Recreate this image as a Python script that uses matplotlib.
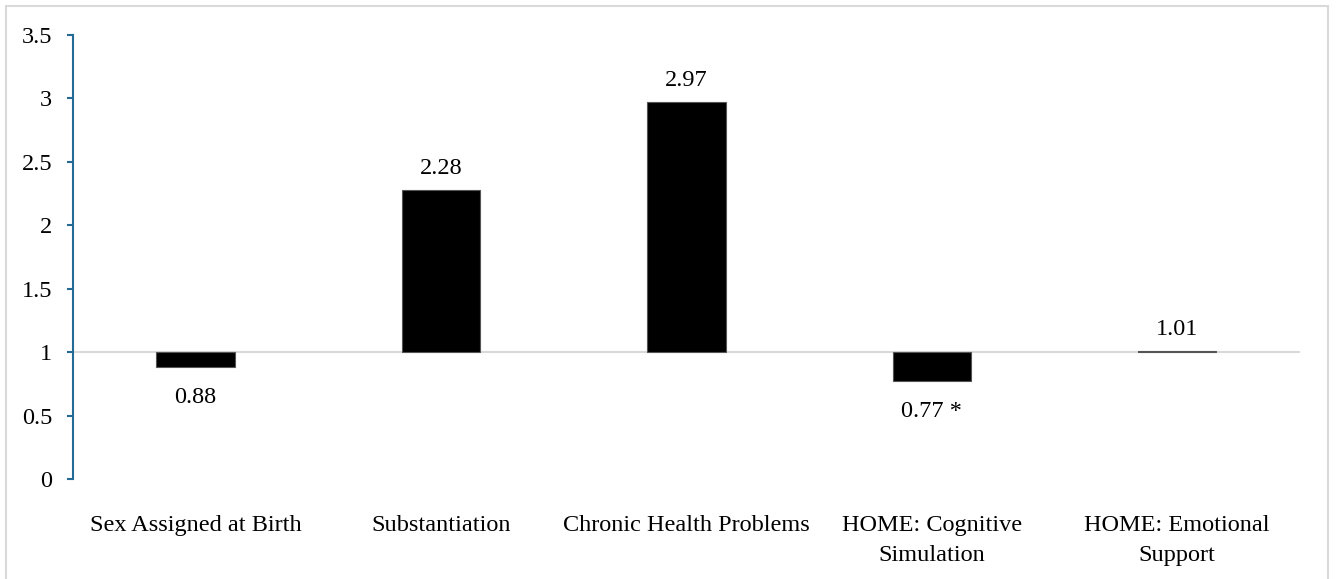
import matplotlib.pyplot as plt
from matplotlib.patches import Rectangle
import numpy as np

# odds ratios per predictor
categories = ['Sex Assigned at Birth', 'Substantiation', 'Chronic Health Problems',
              'HOME: Cognitive\nSimulation', 'HOME: Emotional\nSupport']
odds = [0.88, 2.28, 2.97, 0.77, 1.01]
labels = ['0.88', '2.28', '2.97', '0.77 *', '1.01']

plt.rcParams['font.family'] = ['Liberation Serif', 'DejaVu Serif']
fs = 17.5
axis_col = '#246a94'

fig = plt.figure(figsize=(13.36, 5.79), dpi=100)
ax = fig.add_axes([0.0546, 0.1727, 0.9184, 0.7669])

x = np.arange(len(categories))
heights = [v - 1 for v in odds]
ax.axhline(1, color='#d9d9d9', lw=1.5, zorder=1)
ax.bar(x, heights, bottom=1, width=0.32, color='black', edgecolor='#555555',
       linewidth=0.8, zorder=2)

for xi, v, lab in zip(x, odds, labels):
    if v >= 1:
        ax.annotate(lab, (xi, v), xytext=(0, 8), textcoords='offset points',
                    ha='center', va='bottom', fontsize=fs)
    else:
        ax.annotate(lab, (xi, v), xytext=(0, -14), textcoords='offset points',
                    ha='center', va='top', fontsize=fs)

ax.set_xlim(-0.5, len(categories) - 0.5)
ax.set_ylim(0, 3.5)
ax.set_yticks(np.arange(0, 3.51, 0.5))
ax.set_yticklabels(['0', '0.5', '1', '1.5', '2', '2.5', '3', '3.5'])
ax.set_xticks(x)
ax.set_xticklabels(categories, fontsize=fs, va='top', linespacing=1.55)

for s in ['top', 'right', 'bottom']:
    ax.spines[s].set_visible(False)
ax.spines['left'].set_color(axis_col)
ax.spines['left'].set_linewidth(1.5)
ax.tick_params(axis='y', colors=axis_col, labelcolor='black', labelsize=fs,
               length=4, width=1.5, pad=11)
ax.tick_params(axis='x', length=0, pad=26)

fig.patches.append(Rectangle((6 / 1336, -0.05), 1322 / 1336, 1.05 - 6 / 579,
                             transform=fig.transFigure, fill=False,
                             edgecolor='#d9d9d9', lw=1.5))

fig.savefig('out.png', dpi=100)
